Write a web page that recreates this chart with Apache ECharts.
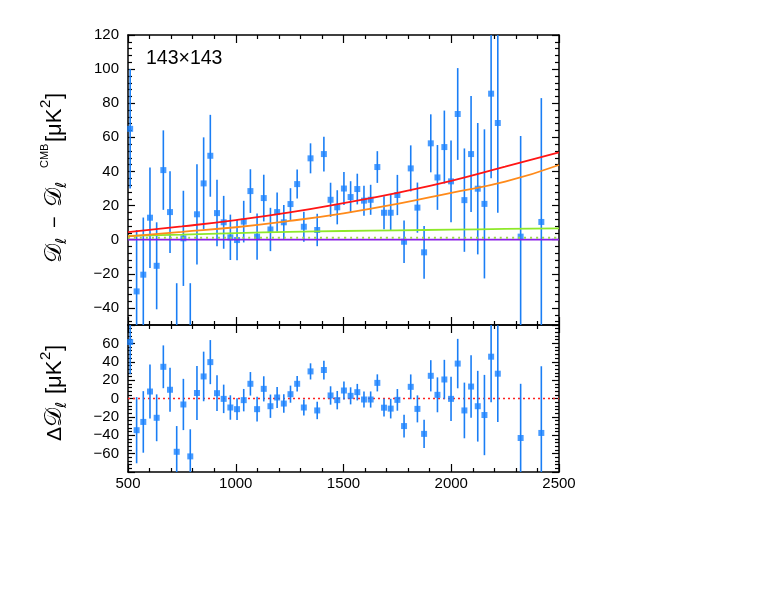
<!DOCTYPE html>
<html>
<head>
<meta charset="utf-8">
<script src="https://cdn.jsdelivr.net/npm/echarts@6/dist/echarts.min.js"></script>
<style>
html,body{margin:0;padding:0;background:#fff;}
#c{width:772px;height:597px;}
</style>
</head>
<body>
<div id="c"></div>
<script>
// ---- data ----
const ells = [510,540,571,602,633,664,695,726,757,789,820,851,882,913,944,975,1006,1037,1068,1099,1130,1161,1192,1223,1254,1285,1316,1347,1378,1409,1440,1471,1502,1533,1564,1595,1626,1657,1688,1719,1750,1781,1812,1843,1874,1905,1936,1968,1999,2030,2061,2092,2123,2154,2185,2216,2322,2418];
const topVals = [65,-30.3,-20.5,12.9,-15.3,40.8,16.2,-53.5,0.8,-55,14.9,33,49.2,15.6,10.2,1.4,-0.2,10.6,28.5,1.8,24.4,6,16.2,10.2,20.9,32.6,7.6,47.7,5.7,50.2,23.4,19,30,25,29.7,22.9,23.4,42.6,15.8,15.8,26.2,-1.2,41.8,18.8,-7.4,56.5,36.5,54.3,34.2,73.7,23.2,50.2,29.9,21,85.6,68.4,1.8,10.4];
const botVals = [61.5,-34.5,-25.5,7.6,-21,34.5,9.5,-58,-6.5,-63,6,24,39.6,5.8,-0.4,-9.8,-11.6,-1.8,16,-11.6,10.5,-8.4,1.1,-5.5,4.7,16,-9.8,29.5,-13,31,3.3,-1.8,8.7,2.9,6.9,-1.1,-1.1,17,-10,-11,-1.5,-30,12.7,-11.3,-38.5,24.7,4,20.7,-0.4,38,-13,13,-8.4,-18,45.5,27,-43,-37.5];
const errs = [35,36,33.5,29.5,25.5,23.3,24,28,27.9,29.5,29.4,27,24,19.5,15.5,13.3,11.8,12.2,12.8,13.5,13.7,12.7,11.5,10.1,9.3,8.5,8.8,8.8,9.5,10.2,10,10,9.7,9.3,9,8.8,8.8,9.3,9.7,10.7,11.8,12.4,13.5,14.7,15.5,17,19,21.4,24,26.9,30.3,34,38.5,43.7,49.6,52.6,59,72.6];

const curveL = [500,750,1000,1250,1500,1750,2000,2250,2500];
const redVals = [4.5,7.8,11.5,16,21.5,27.5,34.5,42.8,51.2];
const orangeVals = [2,4.6,7.3,11,15.5,21,27.5,34,43.8];
const greenVals = [2.2,3,3.9,4.6,5.1,5.5,5.9,6.3,6.7];
const purpleVals = [0,0,0,0,0,0,0,0,0];
const greenDotVals = [1.1,1.1,1.1,1.1,1.1,1.1,1.1,1.1,1.1];
const resZeroVals = [0,0,0,0,0,0,0,0,0];

const xTicks = [500,1000,1500,2000,2500];
const topYTicks = [-40,-20,0,20,40,60,80,100,120];
const botYTicks = [-60,-40,-20,0,20,40,60];

// ---- helpers ----
const FONT = "'Liberation Sans', Arial, sans-serif";
const BLUE_PT = '#1a82ff';
const BLUE_BAR = '#1a7ef5';
const zip = (a,b) => a.map((v,i)=>[v,b[i]]);
const topMinor = [];
for (let v = -48; v <= 120; v += 4) if (v % 20 !== 0) topMinor.push(v);
const fmt = v => String(v).replace('-', '\u2212');

const axisLine = {show:true, onZero:false, lineStyle:{color:'#000', width:1.5}};

function xAx(grid, pos, labels){
  return {type:'value', gridIndex:grid, position:pos, min:500, max:2500, interval:500,
    axisLine:axisLine,
    axisTick:{show:true, inside:true, length:8, lineStyle:{color:'#000', width:1.2}},
    minorTick:{show:true, splitNumber:5, length:4, lineStyle:{color:'#000', width:1.2}},
    axisLabel:{show:labels, color:'#000', fontSize:15, fontFamily:FONT, margin:4,
      customValues: xTicks, formatter: v => String(v)},
    splitLine:{show:false}, minorSplitLine:{show:false}};
}
function yTop(pos, labels){
  return {type:'value', gridIndex:0, position:pos, min:-50, max:120,
    axisLine:axisLine,
    axisTick:{show:true, inside:true, length:7, customValues: topYTicks, lineStyle:{color:'#000', width:1.2}},
    axisLabel:{show:labels, customValues: topYTicks, color:'#000', fontSize:15, fontFamily:FONT, margin:9,
      formatter: fmt},
    splitLine:{show:false}};
}
function yTopMinor(pos){
  return {type:'value', gridIndex:0, position:pos, min:-50, max:120,
    axisLine:{show:false},
    axisTick:{show:true, inside:true, length:4, customValues: topMinor, lineStyle:{color:'#000', width:1.2}},
    axisLabel:{show:false}, splitLine:{show:false}};
}
function yBot(pos, labels){
  return {type:'value', gridIndex:1, position:pos, min:-80, max:80, interval:20,
    axisLine:axisLine,
    axisTick:{show:true, inside:true, length:7, lineStyle:{color:'#000', width:1.2}},
    minorTick:{show:true, splitNumber:5, length:4, lineStyle:{color:'#000', width:1.2}},
    axisLabel:{show:labels, customValues: botYTicks, color:'#000', fontSize:15, fontFamily:FONT, margin:9,
      formatter: fmt},
    splitLine:{show:false}};
}

function errSeries(xi, yi, vals){
  return {type:'custom', xAxisIndex:xi, yAxisIndex:yi, clip:true, z:3,
    data: ells.map((l,i)=>[l, vals[i], errs[i]]),
    renderItem: function(params, api){
      const x = api.value(0), v = api.value(1), e = api.value(2);
      const p1 = api.coord([x, v - e]);
      const p2 = api.coord([x, v + e]);
      return {type:'line', shape:{x1:p1[0], y1:p1[1], x2:p2[0], y2:p2[1]},
        style:{stroke:BLUE_BAR, lineWidth:1.6}};
    }};
}
function ptSeries(xi, yi, vals){
  return {type:'scatter', xAxisIndex:xi, yAxisIndex:yi, clip:true, z:4,
    symbol:'rect', symbolSize:6, itemStyle:{color:BLUE_PT},
    data: zip(ells, vals)};
}
function curve(vals, color, width, type){
  return {type:'line', xAxisIndex:0, yAxisIndex:0, smooth:true, showSymbol:false, symbol:'none', z:6,
    clip:true, lineStyle:{color:color, width:width, type:type||'solid'},
    data: zip(curveL, vals)};
}

const DFONT = "'DejaVu Serif', 'DejaVu Sans', 'Noto Sans', serif";
function t(x, y, text, font){
  return {type:'text', x:x, y:y, style:{text:text, font:font, fill:'#000', align:'left', verticalAlign:'middle'}};
}

const chart = echarts.init(document.getElementById('c'), null, {renderer:'canvas'});
chart.setOption({
  animation:false,
  backgroundColor:'#fff',
  grid:[
    {left:128, top:35, width:431, height:290},
    {left:128, top:325, width:431, height:147}
  ],
  xAxis:[xAx(0,'bottom',false), xAx(0,'top',false), xAx(1,'bottom',true), xAx(1,'top',false)],
  yAxis:[yTop('left',true), yTop('right',false), yTopMinor('left'), yTopMinor('right'),
         yBot('left',true), yBot('right',false)],
  series:[
    errSeries(0,0,topVals),
    ptSeries(0,0,topVals),
    curve(purpleVals,'#8a1ee6',1.8),
    curve(greenDotVals,'#9ad64a',2,[2,4]),
    curve(greenVals,'#8ee82a',1.8),
    curve(orangeVals,'#ff8a1a',1.8),
    curve(redVals,'#ff1515',1.8),
    errSeries(2,4,botVals),
    ptSeries(2,4,botVals),
    {type:'line', xAxisIndex:2, yAxisIndex:4, showSymbol:false, symbol:'none', z:2,
      lineStyle:{color:'#ff2020', width:1.5, type:[2,3]}, data: zip(curveL, resZeroVals)}
  ],
  graphic:[
    {type:'text', left:146, top:49, style:{text:'143\u00d7143', font:"19.5px 'Liberation Sans', Arial, sans-serif", fill:'#000'}},
    {type:'group', x:55, y:263, rotation:Math.PI/2, children:[
      t(0, 0, '\ud835\udc9f', "24px " + DFONT),
      t(19, 7, '\u2113', "italic 15px " + DFONT),
      t(35, 0, '\u2212', "20px " + FONT),
      t(56, 0, '\ud835\udc9f', "24px " + DFONT),
      t(75, 7, '\u2113', "italic 15px " + DFONT),
      t(95, -10, 'CMB', "11px " + FONT),
      t(121, 0, '[\u03bcK', "22px " + FONT),
      t(155, -9, '2', "15px " + FONT),
      t(164, 0, ']', "22px " + FONT)
    ]},
    {type:'group', x:55, y:441, rotation:Math.PI/2, children:[
      t(0, 0, '\u0394', "21px " + FONT),
      t(14, 0, '\ud835\udc9f', "24px " + DFONT),
      t(33, 7, '\u2113', "italic 15px " + DFONT),
      t(47, 0, '[\u03bcK', "22px " + FONT),
      t(81, -9, '2', "15px " + FONT),
      t(90, 0, ']', "22px " + FONT)
    ]}
  ]
});
</script>
</body>
</html>
